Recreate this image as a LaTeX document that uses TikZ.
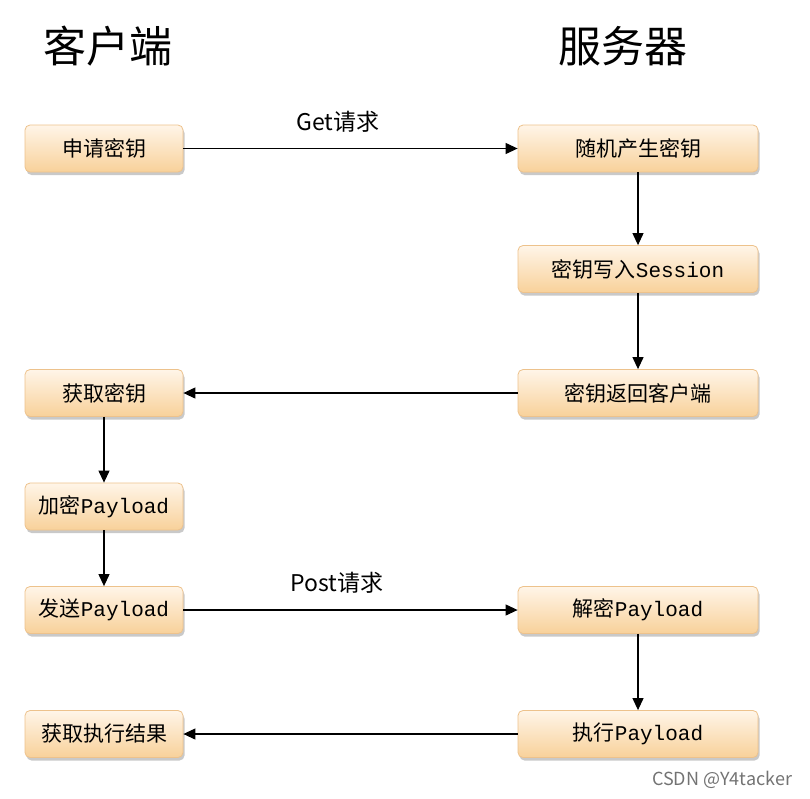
\documentclass[tikz,border=0pt]{standalone}
\usepackage{fontspec}
\setmainfont{Noto Sans CJK SC}
\newfontfamily\codefont{Liberation Mono}
\usetikzlibrary{arrows.meta,shadows}

\definecolor{boxtop}{HTML}{FFF5E8}
\definecolor{boxbot}{HTML}{F8D19A}
\definecolor{boxedge}{HTML}{EDC28C}

\newcommand{\pl}[1]{{\codefont #1}}

\tikzset{
  stepbox/.style={draw=boxedge, line width=0.8pt, rounded corners=5pt,
    top color=boxtop, bottom color=boxbot,
    minimum height=47pt, inner sep=0pt,
    drop shadow={shadow xshift=1.5pt, shadow yshift=-3pt, opacity=0.3, fill=black!70},
    font=\fontsize{21}{24}\selectfont},
  client/.style={stepbox, minimum width=158pt},
  server/.style={stepbox, minimum width=240pt},
  flow/.style={-{Triangle[length=12pt,width=11pt]}, line width=1.1pt, black},
}

\begin{document}
\begin{tikzpicture}[x=1pt, y=-1pt]
      \useasboundingbox (0,0) rectangle (810,798);

      % draw the column titles
      \node (tc) at (108,46) {\fontsize{43}{46}\selectfont 客户端};
      \node (ts) at (623,46) {\fontsize{43}{46}\selectfont 服务器};

      % client side
      \node[client] (c1) at (104,148.5) {申请密钥};
      \node[client] (c2) at (104,393) {获取密钥};
      \node[client] (c3) at (104,506.5) {加密\pl{Payload}};
      \node[client] (c4) at (104,610) {发送\pl{Payload}};
      \node[client] (c5) at (104,734) {获取执行结果};

      % server side
      \node[server] (s1) at (638,148.5) {随机产生密钥};
      \node[server] (s2) at (638,269) {密钥写入\pl{Session}};
      \node[server] (s3) at (638,393) {密钥返回客户端};
      \node[server] (s4) at (638,610) {解密\pl{Payload}};
      \node[server] (s5) at (638,734) {执行\pl{Payload}};

      % draw the requests and replies
      \draw[flow] (c1) -- (s1);
      \draw[flow] (s3) -- (c2);
      \draw[flow] (c4) -- (s4);
      \draw[flow] (s5) -- (c5);
      \node (get) at (338,122) {\fontsize{23}{26}\selectfont Get请求};
      \node (post) at (337,583) {\fontsize{23}{26}\selectfont Post请求};

      % draw the steps on each side
      \draw[flow] (s1) -- (s2);
      \draw[flow] (s2) -- (s3);
      \draw[flow] (s4) -- (s5);
      \draw[flow] (c2) -- (c3);
      \draw[flow] (c3) -- (c4);

      \node[text=black!55] (mark) at (722,780) {\fontsize{18}{20}\selectfont CSDN @Y4tacker};
    \end{tikzpicture}
\end{document}
